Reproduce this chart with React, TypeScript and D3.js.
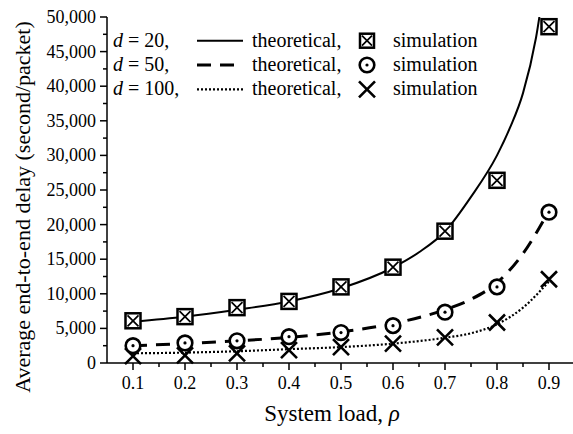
import * as d3 from 'd3';

// System load values
const loads = [0.1, 0.2, 0.3, 0.4, 0.5, 0.6, 0.7, 0.8, 0.9];

// Simulation results (second/packet)
const simD20 = [6100, 6700, 8000, 8900, 11000, 13850, 19050, 26400, 48600];
const simD50 = [2500, 2900, 3200, 3800, 4400, 5400, 7350, 11000, 21800];
const simD100 = [1000, 1100, 1400, 1850, 2300, 2800, 3700, 5850, 12100];

// Theoretical curves, sampled off the figure
const theoLoads20 = [0.1, 0.2, 0.3, 0.4, 0.5, 0.6, 0.65, 0.7, 0.75, 0.8, 0.825, 0.85, 0.875, 0.9];
const theoD20 = [6000, 6700, 7700, 8900, 10800, 13800, 16000, 19000, 24000, 30000, 34000, 39000, 47000, 60000];
const theoLoads = [0.1, 0.2, 0.3, 0.4, 0.5, 0.6, 0.7, 0.75, 0.8, 0.85, 0.9];
const theoD50 = [2500, 2800, 3200, 3700, 4500, 5700, 7700, 9200, 11600, 15800, 22000];
const theoD100 = [1400, 1500, 1700, 2000, 2300, 2800, 3650, 4300, 5600, 8000, 11800];

const xTicks = [0.1, 0.2, 0.3, 0.4, 0.5, 0.6, 0.7, 0.8, 0.9];
const yTicks = [0, 5000, 10000, 15000, 20000, 25000, 30000, 35000, 40000, 45000, 50000];

const W = 573;
const H = 434;
const FONT = '"Liberation Serif", "Times New Roman", serif';

const x = d3.scaleLinear().domain([0.05, 0.95]).range([107, 575]);
const y = d3.scaleLinear().domain([0, 50000]).range([363, 17]);

type Pt = [number, number];
const zip = (xs: number[], ys: number[]): Pt[] => xs.map((v, i) => [v, ys[i]]);

const line = d3.line<Pt>()
  .x(d => x(d[0]))
  .y(d => y(d[1]))
  .curve(d3.curveMonotoneX);

const fmt = d3.format(',');

const SquareX = ({ cx, cy, s = 15 }: { cx: number; cy: number; s?: number }) => (
  <g>
    <rect x={cx - s / 2} y={cy - s / 2} width={s} height={s} fill="white" stroke="black" strokeWidth={2.5} />
    <path d={`M${cx - s / 2 + 2},${cy - s / 2 + 2}L${cx + s / 2 - 2},${cy + s / 2 - 2}M${cx + s / 2 - 2},${cy - s / 2 + 2}L${cx - s / 2 + 2},${cy + s / 2 - 2}`} stroke="black" strokeWidth={1.7} />
  </g>
);

const CircleDot = ({ cx, cy }: { cx: number; cy: number }) => (
  <g>
    <circle cx={cx} cy={cy} r={7.3} fill="white" stroke="black" strokeWidth={2.6} />
    <circle cx={cx} cy={cy} r={1.6} fill="black" />
  </g>
);

const Cross = ({ cx, cy }: { cx: number; cy: number }) => (
  <path d={`M${cx - 8},${cy - 8}L${cx + 8},${cy + 8}M${cx + 8},${cy - 8}L${cx - 8},${cy + 8}`} stroke="black" strokeWidth={2.6} fill="none" />
);

const legendRows = [
  { d: '20', dash: undefined as string | undefined, width: 2 },
  { d: '50', dash: '14,9', width: 3 },
  { d: '100', dash: '2,2', width: 2.2 },
];

export default function App() {
  const minorX = xTicks.map(t => t + 0.05).filter(t => t < 0.95);
  const minorY = yTicks.slice(0, -1).map(t => t + 2500);
  const x0 = x.range()[0];
  return (
    <svg width={W} height={H} style={{ display: 'block', position: 'absolute', left: 0, top: 0, background: 'white', fontFamily: FONT }}>
      <defs>
        <clipPath id="plot">
          <rect x={x0} y={17} width={470} height={346} />
        </clipPath>
      </defs>

      {/* theoretical curves */}
      <g clipPath="url(#plot)" fill="none" stroke="black">
        <path d={line(zip(theoLoads20, theoD20)) || ''} strokeWidth={2} />
        <path d={line(zip(theoLoads, theoD50)) || ''} strokeWidth={3} strokeDasharray="14,9" />
        <path d={line(zip(theoLoads, theoD100)) || ''} strokeWidth={2.2} strokeDasharray="2,2" />
      </g>

      {/* simulation markers */}
      {loads.map((r, i) => <Cross key={'c' + i} cx={x(r)} cy={y(simD100[i])} />)}
      {loads.map((r, i) => <CircleDot key={'o' + i} cx={x(r)} cy={y(simD50[i])} />)}
      {loads.map((r, i) => <SquareX key={'s' + i} cx={x(r)} cy={y(simD20[i])} />)}

      {/* axes */}
      <g stroke="black" strokeWidth={1.5}>
        <line x1={x0} x2={x0} y1={y(50000)} y2={y(0)} />
        <line x1={x0} x2={W} y1={y(0)} y2={y(0)} />
        {xTicks.map(t => <line key={'xt' + t} x1={x(t)} x2={x(t)} y1={y(0)} y2={y(0) + 7} />)}
        {minorX.map(t => <line key={'xm' + t} x1={x(t)} x2={x(t)} y1={y(0)} y2={y(0) + 4} />)}
        {yTicks.map(t => <line key={'yt' + t} x1={x0 - 7} x2={x0} y1={y(t)} y2={y(t)} />)}
        {minorY.map(t => <line key={'ym' + t} x1={x0 - 4} x2={x0} y1={y(t)} y2={y(t)} />)}
      </g>
      <g fontSize={18} fill="black">
        {xTicks.map(t => (
          <text key={'xl' + t} x={x(t)} y={y(0) + 26} textAnchor="middle">{t.toFixed(1)}</text>
        ))}
        {yTicks.map(t => (
          <text key={'yl' + t} x={x0 - 11} y={y(t) + 6} textAnchor="end">{fmt(t)}</text>
        ))}
      </g>

      {/* axis titles */}
      <text x={332} y={421} fontSize={23} textAnchor="middle">
        System load, <tspan fontStyle="italic">ρ</tspan>
      </text>
      <text transform="translate(30,207) rotate(-90)" fontSize={22} textAnchor="middle">
        Average end-to-end delay (second/packet)
      </text>

      {/* legend */}
      <g fontSize={20}>
        {legendRows.map((row, i) => {
          const cy = 40.7 + i * 24.3;
          return (
            <g key={'lg' + i}>
              <text x={113} y={cy + 6}>
                <tspan fontStyle="italic">d</tspan> = {row.d},
              </text>
              <line x1={197} x2={243} y1={cy} y2={cy} stroke="black" strokeWidth={row.width} strokeDasharray={row.dash} />
              <text x={252} y={cy + 6}>theoretical,</text>
              {i === 0 && <SquareX cx={367} cy={cy} s={14} />}
              {i === 1 && <CircleDot cx={367} cy={cy} />}
              {i === 2 && <Cross cx={367} cy={cy} />}
              <text x={393} y={cy + 6}>simulation</text>
            </g>
          );
        })}
      </g>
    </svg>
  );
}
